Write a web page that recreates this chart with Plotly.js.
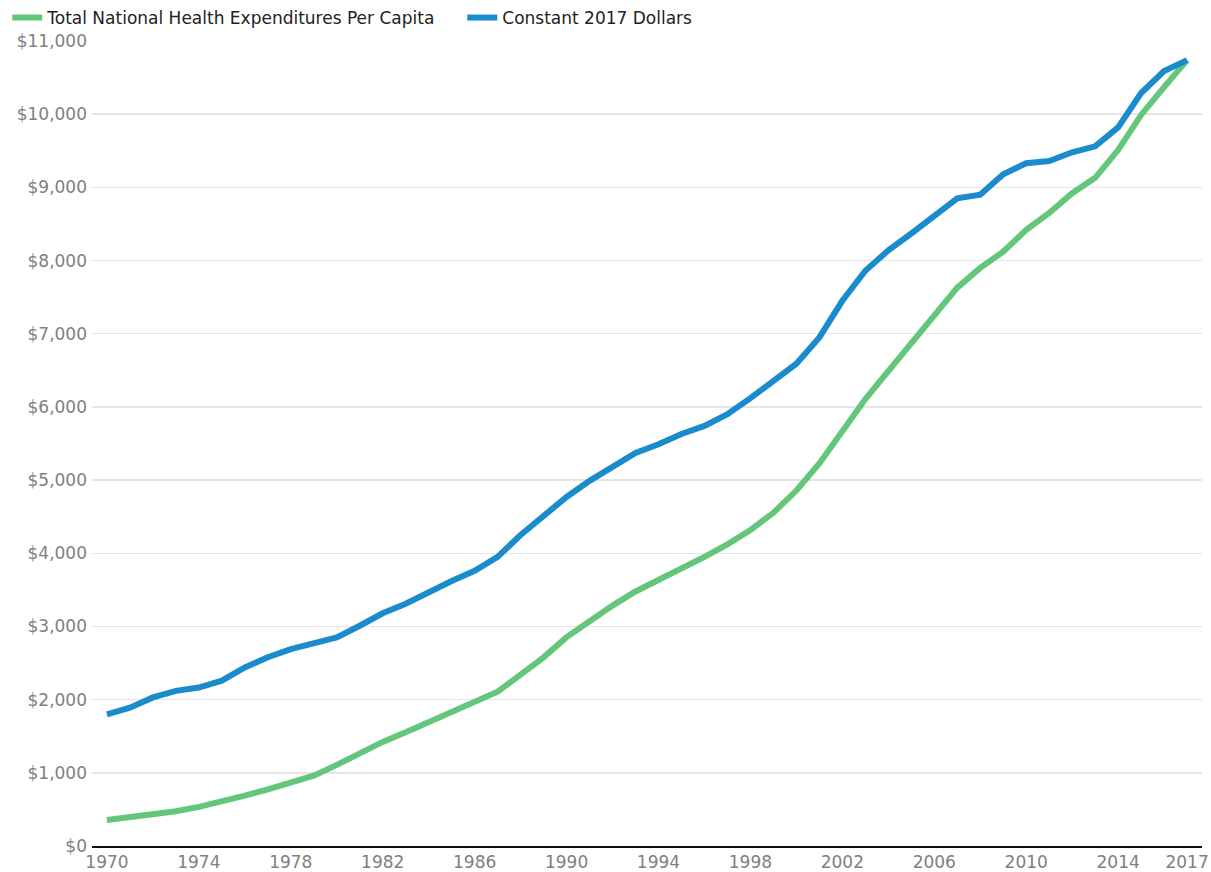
<!DOCTYPE html>
<html>
<head>
<meta charset="utf-8">
<script src="https://cdn.plot.ly/plotly-3.0.1.min.js"></script>
<style>html,body{margin:0;padding:0;background:#fff;}#chart{width:1211px;height:872px;}</style>
</head>
<body>
<div id="chart"></div>
<script>
const years = [];
for (let y = 1970; y <= 2017; y++) years.push(y);

const nominalPerCapita = [355, 390, 432, 474, 535, 605, 687, 774, 858, 960,
  1108, 1275, 1422, 1555, 1694, 1836, 1956, 2108, 2343, 2578,
  2854, 3077, 3285, 3478, 3632, 3795, 3951, 4122, 4318, 4553,
  4857, 5227, 5678, 6107, 6489, 6866, 7248, 7630, 7900, 8120,
  8420, 8650, 8920, 9130, 9510, 9990, 10370, 10739];

const constant2017 = [1800, 1890, 2030, 2120, 2165, 2260, 2440, 2580, 2690, 2770,
  2850, 3010, 3180, 3310, 3470, 3620, 3760, 3950, 4250, 4500,
  4770, 4990, 5190, 5370, 5490, 5630, 5740, 5900, 6120, 6350,
  6590, 6950, 7450, 7860, 8140, 8370, 8600, 8850, 8900, 9180,
  9330, 9360, 9480, 9560, 9820, 10290, 10590, 10739];

const xTickVals = [1970, 1974, 1978, 1982, 1986, 1990, 1994, 1998, 2002, 2006, 2010, 2014, 2017];
const yTickVals = [0, 1000, 2000, 3000, 4000, 5000, 6000, 7000, 8000, 9000, 10000, 11000];
const yTickText = ['$0', '$1,000', '$2,000', '$3,000', '$4,000', '$5,000', '$6,000', '$7,000', '$8,000', '$9,000', '$10,000', '$11,000'];

const traces = [
  {x: years, y: nominalPerCapita, type: 'scatter', mode: 'lines', name: 'Total National Health Expenditures Per Capita',
   line: {color: '#64c67b', width: 6}},
  {x: years, y: constant2017, type: 'scatter', mode: 'lines', name: 'Constant 2017 Dollars',
   line: {color: '#1a8bcd', width: 6}}
];

const layout = {
  width: 1211, height: 872,
  margin: {l: 92, r: 9, t: 41, b: 26},
  paper_bgcolor: '#fff', plot_bgcolor: '#fff',
  font: {family: '"DejaVu Sans", sans-serif', size: 17, color: '#808080'},
  showlegend: true,
  legend: {orientation: 'h', xref: 'container', yref: 'container', x: 0.006, y: 1, xanchor: 'left', yanchor: 'top',
    bgcolor: 'rgba(0,0,0,0)', entrywidth: 410,
    font: {family: '"DejaVu Sans", sans-serif', size: 17, color: '#222'}, itemwidth: 30, tracegroupgap: 0},
  xaxis: {range: [1969.35, 2017.65], tickmode: 'array', tickvals: xTickVals, showgrid: false, zeroline: false,
    showline: true, linecolor: '#111', linewidth: 2, ticks: '', ticklen: 0, tickfont: {size: 17, color: '#808080'}},
  yaxis: {range: [0, 11000], tickmode: 'array', tickvals: yTickVals, ticktext: yTickText, showgrid: true,
    gridcolor: '#e5e5e5', gridwidth: 1.5, zeroline: false, showline: false, ticks: '', ticklabelstandoff: 4,
    tickfont: {size: 17, color: '#808080'}},
  hovermode: false
};

Plotly.newPlot('chart', traces, layout, {displayModeBar: false, staticPlot: true});
</script>
</body>
</html>
